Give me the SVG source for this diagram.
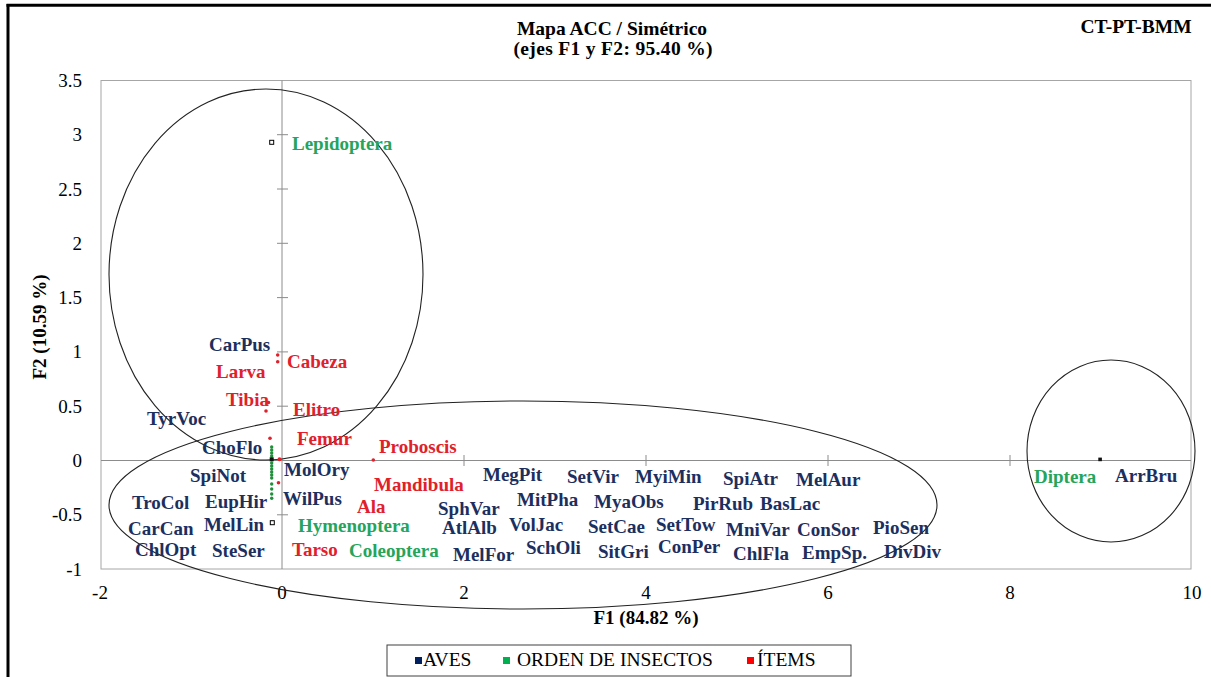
<svg xmlns="http://www.w3.org/2000/svg" width="1211" height="677" viewBox="0 0 1211 677">
<style>
text{font-family:"Liberation Serif","Times New Roman",serif}
.t{font-size:19.5px;font-weight:bold;fill:#000}
.tick{font-size:19px;fill:#000}
.ax{font-size:19px;font-weight:bold;fill:#000}
.lb{font-size:19px;font-weight:bold}
.av{fill:#1c2f5e}
.or{fill:#25a45c}
.it{fill:#e0212b}
.lg{font-size:19.5px;fill:#000}
.grid{stroke:#8c8c8c;stroke-width:1;fill:none}
.ell{stroke:#222;stroke-width:1.1;fill:none}
.rd{fill:#e0212b}
.gd{fill:#1f8f3a}
</style>
<rect x="0" y="0" width="1211" height="677" fill="#fff"/>
<g id="frame">
<line x1="6.5" y1="5.3" x2="1211" y2="5.3" stroke="#000" stroke-width="3"/>
<line x1="8" y1="4" x2="8" y2="677" stroke="#000" stroke-width="3"/>
</g>
<g id="title">
<text class="t" x="612" y="35" text-anchor="middle">Mapa ACC / Simétrico</text>
<text class="t" x="613" y="55" text-anchor="middle" textLength="199">(ejes F1 y F2: 95.40 %)</text>
<text class="t" x="1136" y="33" text-anchor="middle">CT-PT-BMM</text>
</g>
<g id="axes">
<rect x="101" y="80.5" width="1090" height="488.5" fill="none" stroke="#a6a6a6" stroke-width="1"/>
<line class="grid" x1="282" y1="80.5" x2="282" y2="569"/>
<line class="grid" x1="101" y1="460.5" x2="1191" y2="460.5"/>
<g class="grid">
<path d="M277 134.7H288M277 189H288M277 243.3H288M277 297.6H288M277 351.9H288M277 406.2H288M277 514.8H288"/>
<path d="M464 455V466M646 455V466M828 455V466M1010 455V466"/>
</g>
<g class="tick" text-anchor="end">
<text x="82" y="87">3.5</text>
<text x="82" y="141">3</text>
<text x="82" y="195.5">2.5</text>
<text x="82" y="250">2</text>
<text x="82" y="304">1.5</text>
<text x="82" y="358">1</text>
<text x="82" y="413">0.5</text>
<text x="82" y="467">0</text>
<text x="82" y="521">-0.5</text>
<text x="82" y="575.5">-1</text>
</g>
<g class="tick" text-anchor="middle">
<text x="100" y="599">-2</text>
<text x="282" y="599">0</text>
<text x="464" y="599">2</text>
<text x="646" y="599">4</text>
<text x="828" y="599">6</text>
<text x="1010" y="599">8</text>
<text x="1192" y="599">10</text>
</g>
<text class="ax" x="646" y="624" text-anchor="middle">F1 (84.82 %)</text>
<text class="ax" x="46" y="327" text-anchor="middle" transform="rotate(-90 46 327)">F2 (10.59 %)</text>
</g>
<g id="ellipses">
<ellipse class="ell" cx="266" cy="274.5" rx="157" ry="185.5"/>
<ellipse class="ell" cx="523" cy="505" rx="414" ry="104"/>
<ellipse class="ell" cx="1111" cy="451" rx="84" ry="91"/>
</g>
<g id="points">
<circle class="rd" cx="277.7" cy="355" r="1.8"/>
<circle class="rd" cx="277.7" cy="361.7" r="1.8"/>
<circle class="rd" cx="268.5" cy="402.5" r="1.8"/>
<circle class="rd" cx="266" cy="411" r="1.8"/>
<circle class="rd" cx="270" cy="438.3" r="1.8"/>
<circle class="rd" cx="279.5" cy="459.3" r="2"/>
<circle class="rd" cx="278.5" cy="482.7" r="1.8"/>
<circle class="rd" cx="373.3" cy="460" r="1.8"/>
<g class="gd">
<circle cx="271.7" cy="447" r="1.7"/><circle cx="271.7" cy="450" r="1.7"/><circle cx="271.7" cy="453" r="1.7"/>
<circle cx="271.7" cy="456" r="1.7"/><circle cx="271.7" cy="463" r="1.7"/><circle cx="271.7" cy="466" r="1.7"/>
<circle cx="271.7" cy="469" r="1.7"/><circle cx="271.7" cy="472" r="1.7"/><circle cx="271.7" cy="475" r="1.7"/>
<circle cx="271.7" cy="478" r="1.7"/><circle cx="271.7" cy="484" r="1.7"/><circle cx="271.7" cy="489" r="1.7"/>
<circle cx="271.7" cy="494" r="1.7"/><circle cx="271.7" cy="498.3" r="1.7"/>
</g>
<rect x="269.7" y="457.3" width="4" height="4" fill="#111"/>
<rect x="269.7" y="140.3" width="4" height="4" fill="#fff" stroke="#000" stroke-width="1"/>
<rect x="270.3" y="520.7" width="4" height="4" fill="#fff" stroke="#000" stroke-width="1"/>
<rect x="1098.3" y="457.6" width="3.6" height="3.6" fill="#111"/>
</g>
<g id="items" class="lb it">
<text x="287" y="368">Cabeza</text>
<text x="216" y="378">Larva</text>
<text x="226" y="406">Tibia</text>
<text x="293" y="416">Elitro</text>
<text x="297" y="445">Femur</text>
<text x="379" y="453">Proboscis</text>
<text x="374" y="491">Mandibula</text>
<text x="357" y="513">Ala</text>
<text x="292" y="556">Tarso</text>
</g>
<g id="ordenes" class="lb or">
<text x="292" y="150">Lepidoptera</text>
<text x="298" y="532">Hymenoptera</text>
<text x="349" y="557">Coleoptera</text>
<text x="1034" y="483">Diptera</text>
</g>
<g id="aves" class="lb av">
<text x="209" y="351">CarPus</text>
<text x="147" y="425">TyrVoc</text>
<text x="202" y="454">ChoFlo</text>
<text x="284" y="476">MolOry</text>
<text x="190" y="482">SpiNot</text>
<text x="283" y="505">WilPus</text>
<text x="205" y="508">EupHir</text>
<text x="132" y="509">TroCol</text>
<text x="438" y="515">SphVar</text>
<text x="204" y="531">MelLin</text>
<text x="128" y="535">CarCan</text>
<text x="442" y="534">AtlAlb</text>
<text x="135" y="556">ChlOpt</text>
<text x="212" y="557">SteSer</text>
<text x="453" y="561">MelFor</text>
<text x="483" y="481">MegPit</text>
<text x="567" y="483">SetVir</text>
<text x="635" y="483">MyiMin</text>
<text x="723" y="485">SpiAtr</text>
<text x="796" y="486">MelAur</text>
<text x="517" y="506">MitPha</text>
<text x="594" y="508">MyaObs</text>
<text x="693" y="510">PirRub</text>
<text x="760" y="510">BasLac</text>
<text x="509" y="531">VolJac</text>
<text x="588" y="533">SetCae</text>
<text x="656" y="531">SetTow</text>
<text x="726" y="536">MniVar</text>
<text x="797" y="536">ConSor</text>
<text x="873" y="534">PioSen</text>
<text x="526" y="554">SchOli</text>
<text x="598" y="558">SitGri</text>
<text x="658" y="553">ConPer</text>
<text x="733" y="560">ChlFla</text>
<text x="802" y="559">EmpSp.</text>
<text x="884" y="558">DivDiv</text>
<text x="1115" y="482">ArrBru</text>
</g>
<g id="legend">
<rect x="387" y="645" width="464" height="31" fill="#fff" stroke="#404040" stroke-width="1"/>
<rect x="415" y="657" width="7" height="7" fill="#002060"/>
<text class="lg" x="423" y="666">AVES</text>
<rect x="503" y="657" width="7" height="7" fill="#00b050"/>
<text class="lg" x="517" y="666">ORDEN DE INSECTOS</text>
<rect x="747" y="657" width="7" height="7" fill="#ff0000"/>
<text class="lg" x="757" y="666">ÍTEMS</text>
</g>
</svg>
